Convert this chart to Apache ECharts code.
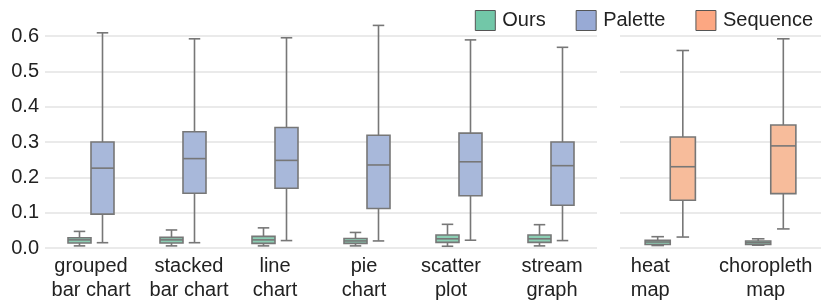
<!DOCTYPE html>
<html>
<head>
<meta charset="utf-8">
<script src="https://cdn.jsdelivr.net/npm/echarts@6/dist/echarts.min.js"></script>
<style>html,body{margin:0;padding:0;background:#fff;}#c{width:830px;height:307px;}</style>
</head>
<body>
<div id="c"></div>
<script>
// ---- data: [min, q1, median, q3, max] ----
const categoriesLeft = ['grouped\nbar chart', 'stacked\nbar chart', 'line\nchart', 'pie\nchart', 'scatter\nplot', 'stream\ngraph'];
const categoriesRight = ['heat\nmap', 'choropleth\nmap'];
const oursLeft = [
  [0.006, 0.014, 0.023, 0.029, 0.047],
  [0.006, 0.014, 0.023, 0.030, 0.051],
  [0.006, 0.013, 0.023, 0.033, 0.057],
  [0.006, 0.013, 0.020, 0.027, 0.044],
  [0.005, 0.016, 0.026, 0.037, 0.067],
  [0.006, 0.016, 0.026, 0.037, 0.066]
];
const paletteLeft = [
  [0.015, 0.096, 0.226, 0.300, 0.609],
  [0.015, 0.155, 0.253, 0.329, 0.592],
  [0.021, 0.169, 0.248, 0.341, 0.595],
  [0.020, 0.112, 0.235, 0.319, 0.630],
  [0.022, 0.148, 0.244, 0.325, 0.589],
  [0.021, 0.121, 0.233, 0.300, 0.568]
];
const oursRight = [
  [0.007, 0.010, 0.017, 0.022, 0.032],
  [0.008, 0.010, 0.015, 0.020, 0.026]
];
const sequenceRight = [
  [0.031, 0.135, 0.230, 0.314, 0.559],
  [0.054, 0.154, 0.289, 0.348, 0.592]
];
const yTicks = [0, 0.1, 0.2, 0.3, 0.4, 0.5, 0.6];

// horizontal nudges of the category labels (px), as in the reference
const labelShiftLeft = [0, 6, 0, -3, -8, 1];
const labelShiftRight = [-20, -5];

const FONT = 'Liberation Sans, Arial, sans-serif';
const EDGE = '#777777';
const fills = { Ours: '#8ccfb4', Palette: '#a8b8da', Sequence: '#f7bc9b' };
const legendColors = { Ours: '#72c7a8', Palette: '#98aad5', Sequence: '#fca782' };

function toData(arr) { return arr.map((v, i) => [i].concat(v)); }

function makeRender(side, fill) {
  return function (params, api) {
    const c = api.value(0);
    const band = api.size([1, 0])[0];
    const w = band * 0.25;
    const xc = api.coord([c, 0])[0] + side * band * 0.125;
    const y = [1, 2, 3, 4, 5].map(i => api.coord([c, api.value(i)])[1]);
    const ls = { stroke: EDGE, lineWidth: 1.6 };
    const cw = w / 4;
    return {
      type: 'group',
      children: [
        { type: 'line', shape: { x1: xc, y1: y[0], x2: xc, y2: y[1] }, style: ls },
        { type: 'line', shape: { x1: xc, y1: y[3], x2: xc, y2: y[4] }, style: ls },
        { type: 'line', shape: { x1: xc - cw, y1: y[0], x2: xc + cw, y2: y[0] }, style: ls },
        { type: 'line', shape: { x1: xc - cw, y1: y[4], x2: xc + cw, y2: y[4] }, style: ls },
        { type: 'rect', shape: { x: xc - w / 2, y: y[3], width: w, height: y[1] - y[3] },
          style: { fill: fill, stroke: EDGE, lineWidth: 1.6 } },
        { type: 'line', shape: { x1: xc - w / 2, y1: y[2], x2: xc + w / 2, y2: y[2] }, style: ls }
      ]
    };
  };
}

function series(name, arr, side, axisIdx) {
  return {
    name: name,
    type: 'custom',
    xAxisIndex: axisIdx,
    yAxisIndex: axisIdx,
    clip: false,
    renderItem: makeRender(side, fills[name]),
    encode: { x: 0, y: [1, 2, 3, 4, 5] },
    itemStyle: { color: legendColors[name] },
    data: toData(arr)
  };
}

const splitLine = { show: true, lineStyle: { color: '#e3e3e3', width: 1.5 } };
function yAxis(idx, showLabels) {
  return {
    type: 'value', gridIndex: idx, min: yTicks[0], max: yTicks[yTicks.length - 1], interval: 0.1,
    axisLine: { show: false }, axisTick: { show: false },
    splitLine: splitLine,
    axisLabel: { show: showLabels, fontFamily: FONT, fontSize: 20, color: '#222', margin: 6,
      formatter: v => v.toFixed(1) }
  };
}
function xAxis(idx, cats, shifts) {
  return {
    type: 'category', gridIndex: idx,
    data: cats.map((c, i) => ({
      value: c,
      textStyle: { padding: shifts[i] >= 0 ? [0, 0, 0, 2 * shifts[i]] : [0, -2 * shifts[i], 0, 0] }
    })),
    axisLine: { show: false }, axisTick: { show: false },
    axisLabel: { fontFamily: FONT, fontSize: 20, color: '#222', margin: 6, lineHeight: 24, interval: 0 }
  };
}

const chart = echarts.init(document.getElementById('c'), null, { renderer: 'canvas' });
chart.setOption({
  animation: false,
  backgroundColor: '#fff',
  grid: [
    { left: 45, top: 36, width: 552, height: 212 },
    { left: 620, top: 36, width: 201, height: 212 }
  ],
  legend: {
    right: 12, top: 5,
    itemWidth: 20, itemHeight: 20, itemGap: 30,
    icon: 'rect',
    textStyle: { fontFamily: FONT, fontSize: 20, color: '#222', padding: [0, 0, 0, 2] },
    data: ['Ours', 'Palette', 'Sequence'].map(n => ({
      name: n, itemStyle: { color: legendColors[n], borderColor: '#555', borderWidth: 1 }
    }))
  },
  xAxis: [xAxis(0, categoriesLeft, labelShiftLeft), xAxis(1, categoriesRight, labelShiftRight)],
  yAxis: [yAxis(0, true), yAxis(1, false)],
  series: [
    series('Ours', oursLeft, -1, 0),
    series('Palette', paletteLeft, 1, 0),
    series('Ours', oursRight, -1, 1),
    series('Sequence', sequenceRight, 1, 1)
  ]
});
</script>
</body>
</html>
